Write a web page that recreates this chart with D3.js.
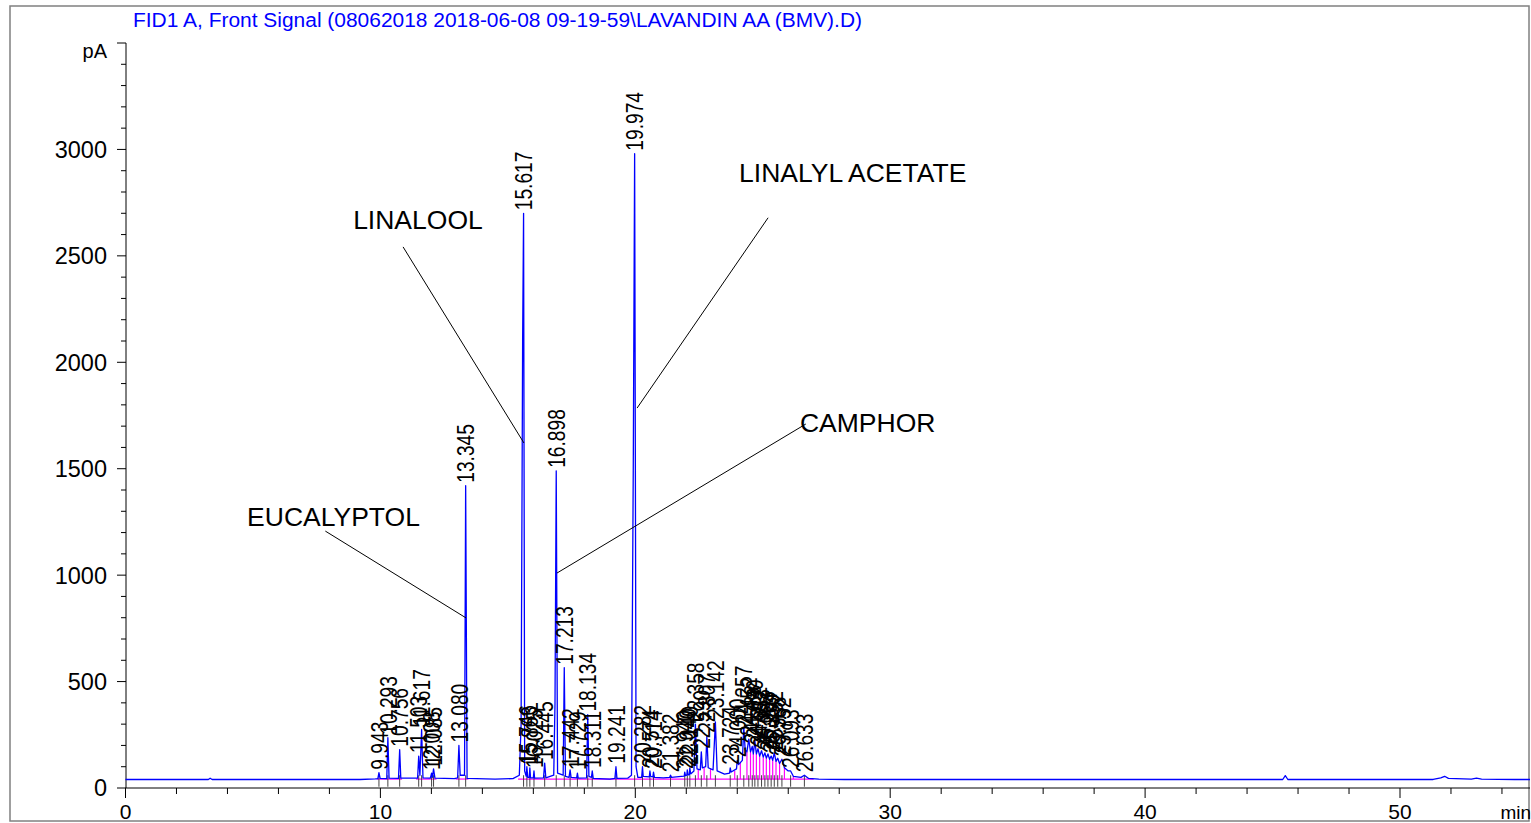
<!DOCTYPE html>
<html>
<head>
<meta charset="utf-8">
<script src="https://cdn.jsdelivr.net/npm/d3@7"></script>
<style>
  body { margin: 0; background: #fff; }
  svg { display: block; font-family: "Liberation Sans", Arial, sans-serif; }
</style>
</head>
<body>
<div id="chart"></div>
<script>
// Chart values
const titleText = "FID1 A, Front Signal (08062018 2018-06-08 09-19-59\\LAVANDIN AA (BMV).D)";
const xMajorTicks = [0, 10, 20, 30, 40, 50];
const yMajorTicks = [0, 500, 1000, 1500, 2000, 2500, 3000];

// integrated peaks: retention time (min) and apex (pA)
const peakTimes = [9.943, 10.293, 10.756, 11.503, 11.617, 12.008, 12.085, 13.080, 13.345,
    15.617, 15.746, 15.863, 16.025, 16.445, 16.898, 17.213, 17.442, 17.729, 18.134, 18.311,
    19.241, 19.974, 20.282, 20.574, 20.714, 21.382, 21.940, 22.040, 22.140, 22.358, 22.590,
    22.807, 23.142, 23.724, 24.000, 24.257, 24.452, 24.588, 24.690, 24.812, 24.953, 25.083,
    25.204, 25.330, 25.452, 25.588, 25.752, 26.093, 26.633];
const peakApex = [72, 236, 180, 150, 275, 70, 90, 200, 1420,
    2700, 100, 95, 80, 117, 1490, 565, 85, 70, 345, 80,
    100, 2980, 100, 80, 75, 60, 75, 85, 95, 300, 170,
    245, 310, 95, 130, 285, 230, 195, 220, 185, 175, 165,
    160, 150, 165, 140, 135, 80, 60];

// detector signal, [time, pA]
const trace = [
    [0, 40], [3.25, 40], [3.32, 46], [3.4, 40], [9.2, 40], [9.8, 43],
    [9.90, 44], [9.943, 72], [9.99, 45],
    [10.25, 44], [10.293, 236], [10.34, 46],
    [10.71, 45], [10.756, 180], [10.80, 46],
    [11.46, 46], [11.503, 150], [11.55, 60], [11.617, 275], [11.67, 48],
    [11.96, 46], [12.008, 70], [12.04, 50], [12.085, 90], [12.14, 46],
    [12.9, 44], [13.03, 48], [13.080, 200], [13.13, 60],
    [13.30, 60], [13.345, 1420], [13.40, 45],
    [14.5, 42], [15.2, 44], [15.45, 60],
    [15.52, 300], [15.58, 2100], [15.617, 2700], [15.66, 80],
    [15.72, 55], [15.746, 100], [15.78, 50],
    [15.84, 50], [15.863, 95], [15.89, 48],
    [16.0, 48], [16.025, 80], [16.05, 46],
    [16.40, 48], [16.445, 117], [16.49, 48],
    [16.80, 60], [16.85, 400], [16.898, 1490], [16.95, 70],
    [17.17, 60], [17.213, 565], [17.26, 55],
    [17.40, 50], [17.442, 85], [17.48, 50],
    [17.70, 48], [17.729, 70], [17.76, 46],
    [18.09, 48], [18.134, 345], [18.18, 55],
    [18.28, 50], [18.311, 80], [18.35, 45],
    [19.0, 42], [19.20, 45], [19.241, 100], [19.28, 45],
    [19.7, 46], [19.85, 60], [19.92, 1500], [19.974, 2980], [20.03, 100], [20.1, 50],
    [20.25, 50], [20.282, 100], [20.31, 55],
    [20.55, 52], [20.574, 80], [20.60, 55],
    [20.69, 52], [20.714, 75], [20.75, 50],
    [21.1, 48], [21.35, 50], [21.382, 60], [21.42, 50],
    [21.8, 55], [21.92, 56], [21.940, 75], [21.97, 58],
    [22.02, 60], [22.040, 85], [22.07, 62],
    [22.12, 62], [22.140, 95], [22.17, 66],
    [22.30, 80], [22.358, 300], [22.42, 90],
    [22.55, 85], [22.590, 170], [22.63, 95],
    [22.76, 100], [22.807, 245], [22.86, 95],
    [23.05, 85], [23.142, 310], [23.21, 80],
    [23.5, 65], [23.70, 70], [23.724, 95], [23.76, 75],
    [23.97, 90], [24.000, 130], [24.05, 110],
    [24.20, 130], [24.257, 285], [24.31, 180],
    [24.38, 170], [24.452, 230], [24.52, 170], [24.588, 195], [24.63, 160],
    [24.690, 220], [24.75, 160], [24.812, 185], [24.88, 150],
    [24.953, 175], [25.02, 145], [25.083, 165], [25.14, 140],
    [25.204, 160], [25.27, 135], [25.330, 150], [25.39, 130],
    [25.452, 165], [25.52, 125], [25.588, 140], [25.66, 115],
    [25.752, 135], [25.85, 95], [26.0, 80],
    [26.093, 80], [26.2, 55], [26.5, 50], [26.633, 60], [26.8, 45],
    [27.2, 42], [28.2, 40], [45.4, 40], [45.5, 58], [45.6, 40],
    [51.3, 40], [51.6, 48], [51.75, 55], [51.9, 45], [52.8, 42], [53.0, 46], [53.2, 42],
    [54.5, 40], [55.1, 40]
];

// integration baseline segments and drop lines (magenta)
const baseSegments = [[9.85, 10.85], [11.4, 12.2], [12.95, 13.45], [15.4, 27.0]];
const dropTimes = [22.47, 22.70, 22.95, 23.90, 24.12, 24.38, 24.52, 24.63, 24.75, 24.88,
    25.02, 25.14, 25.27, 25.39, 25.52, 25.66, 25.85, 26.2];
const dropTops = [88, 95, 90, 80, 120, 170, 170, 160, 160, 150,
    145, 140, 135, 130, 125, 115, 95, 55];

// compound annotations (label anchor and leader line, in min / pA)
const compoundNames = ["EUCALYPTOL", "LINALOOL", "LINALYL ACETATE", "CAMPHOR"];
const compoundTextAt = [[4.77, 1278], [8.93, 2669], [24.07, 2894], [26.46, 1715]];
const compoundLineFrom = [[7.84, 1207], [10.89, 2542], [25.21, 2679], [26.69, 1710]];
const compoundLineTo = [[13.36, 799], [15.63, 1621], [20.07, 1785], [16.93, 1010]];

// Layout
const W = 1531, H = 823;

const svg = d3.select("#chart")
    .append("svg")
    .attr("width", W)
    .attr("height", H);

const xScale = d3.scaleLinear().domain([0, 55.1]).range([125.5, 1530]);
const yScale = d3.scaleLinear().domain([0, 3500]).range([788, 43]);

// outer frame
svg.append("rect")
    .attr("x", 10).attr("y", 6)
    .attr("width", 1519).attr("height", 815)
    .attr("fill", "none")
    .attr("stroke", "#808080")
    .attr("stroke-width", 1.5);

// title
svg.append("text")
    .attr("x", 133)
    .attr("y", 27)
    .attr("fill", "#0000ff")
    .style("font-size", "20px")
    .attr("textLength", 729)
    .attr("lengthAdjust", "spacingAndGlyphs")
    .text(titleText);

// y axis
const yAxis = svg.append("g").attr("class", "y-axis");
yAxis.append("line")
    .attr("x1", 126).attr("x2", 126)
    .attr("y1", yScale(0)).attr("y2", yScale(3500))
    .attr("stroke", "#000");
yAxis.selectAll(".ytick")
    .data(d3.range(0, 3501, 100))
    .join("line")
    .attr("class", "ytick")
    .attr("x1", d => (d % 500 === 0 || d === 3500) ? 117 : 121)
    .attr("x2", 126)
    .attr("y1", d => yScale(d))
    .attr("y2", d => yScale(d))
    .attr("stroke", "#000");
yAxis.selectAll(".ylabel")
    .data(yMajorTicks)
    .join("text")
    .attr("class", "ylabel")
    .attr("x", 107)
    .attr("y", d => yScale(d))
    .attr("dy", "0.36em")
    .attr("text-anchor", "end")
    .style("font-size", "23.5px")
    .text(d => d);
yAxis.append("text")
    .attr("x", 107)
    .attr("y", yScale(3500) + 15)
    .attr("text-anchor", "end")
    .style("font-size", "20px")
    .text("pA");

// x axis
const xAxis = svg.append("g").attr("class", "x-axis");
xAxis.append("line")
    .attr("x1", xScale(0)).attr("x2", 1530)
    .attr("y1", yScale(0)).attr("y2", yScale(0))
    .attr("stroke", "#000");
xAxis.selectAll(".xtick")
    .data(d3.range(0, 55, 2))
    .join("line")
    .attr("class", "xtick")
    .attr("x1", d => xScale(d))
    .attr("x2", d => xScale(d))
    .attr("y1", yScale(0))
    .attr("y2", d => yScale(0) + (d % 10 === 0 ? 10 : 6))
    .attr("stroke", "#000");
xAxis.selectAll(".xlabel")
    .data(xMajorTicks)
    .join("text")
    .attr("class", "xlabel")
    .attr("x", d => xScale(d))
    .attr("y", 819)
    .attr("text-anchor", "middle")
    .style("font-size", "21px")
    .text(d => d);
xAxis.append("text")
    .attr("x", 1531)
    .attr("y", 819)
    .attr("text-anchor", "end")
    .style("font-size", "19px")
    .text("min");

// integration baseline
svg.selectAll(".base-seg")
    .data(baseSegments)
    .join("line")
    .attr("class", "base-seg")
    .attr("x1", d => xScale(d[0]))
    .attr("x2", d => xScale(d[1]))
    .attr("y1", yScale(42))
    .attr("y2", yScale(42))
    .attr("stroke", "#ff00ff")
    .attr("stroke-width", 1.2);

svg.selectAll(".drop")
    .data(dropTimes)
    .join("line")
    .attr("class", "drop")
    .attr("x1", d => xScale(d))
    .attr("x2", d => xScale(d))
    .attr("y1", yScale(42))
    .attr("y2", (d, i) => yScale(dropTops[i]))
    .attr("stroke", "#ff00ff")
    .attr("stroke-width", 1.2);

// retention time marks
svg.selectAll(".rt-mark")
    .data(peakTimes)
    .join("line")
    .attr("class", "rt-mark")
    .attr("x1", d => xScale(d))
    .attr("x2", d => xScale(d))
    .attr("y1", yScale(60))
    .attr("y2", yScale(6))
    .attr("stroke", "#444")
    .attr("stroke-width", 1);

// signal trace
const line = d3.line()
    .x(d => xScale(d[0]))
    .y(d => yScale(d[1]));

svg.append("path")
    .datum(trace)
    .attr("fill", "none")
    .attr("stroke", "#0000ff")
    .attr("stroke-width", 1.3)
    .attr("stroke-linejoin", "round")
    .attr("d", line);

// peak labels (condensed, read bottom to top)
svg.selectAll(".peak-label")
    .data(peakTimes)
    .join("text")
    .attr("class", "peak-label")
    .attr("transform", (d, i) => `translate(${xScale(d)}, ${yScale(peakApex[i]) - 3}) rotate(-90) scale(0.8, 1)`)
    .attr("dy", "0.36em")
    .attr("text-anchor", "start")
    .style("font-size", "24px")
    .text(d => d.toFixed(3));

// compound annotations
svg.selectAll(".leader")
    .data(compoundNames)
    .join("line")
    .attr("class", "leader")
    .attr("x1", (d, i) => xScale(compoundLineFrom[i][0]))
    .attr("y1", (d, i) => yScale(compoundLineFrom[i][1]))
    .attr("x2", (d, i) => xScale(compoundLineTo[i][0]))
    .attr("y2", (d, i) => yScale(compoundLineTo[i][1]))
    .attr("stroke", "#000")
    .attr("stroke-width", 1);

svg.selectAll(".compound")
    .data(compoundNames)
    .join("text")
    .attr("class", "compound")
    .attr("x", (d, i) => xScale(compoundTextAt[i][0]))
    .attr("y", (d, i) => yScale(compoundTextAt[i][1]))
    .attr("dy", "0.36em")
    .style("font-size", "26.5px")
    .text(d => d);
</script>
</body>
</html>
